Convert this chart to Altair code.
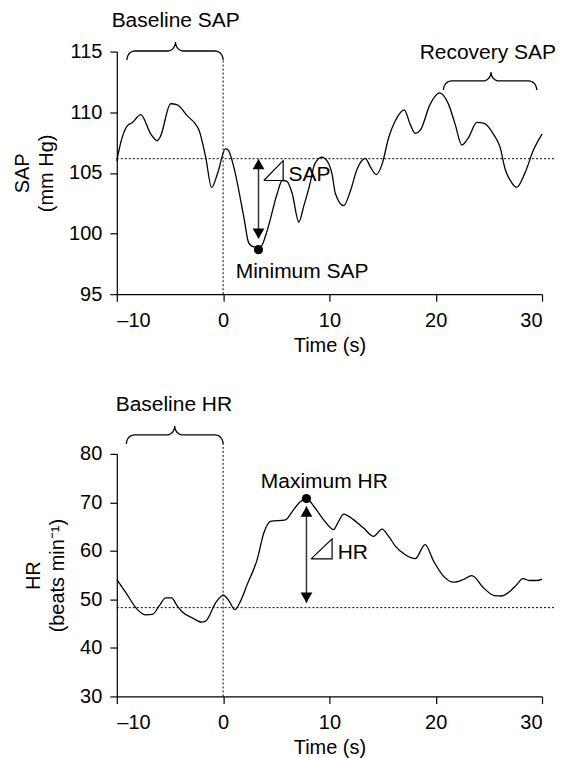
import altair as alt
import pandas as pd
import numpy as np

FONT = "Liberation Sans"

# ---------------- data ----------------
sap_time = [-10.0, -9.6, -9.0, -8.53, -7.75, -6.8, -6.2, -5.9, -4.93, -4.3, -3.36, -2.58, -2.3,
            -1.64, -1.08, -0.54, 0.23, 0.5, 1.0, 1.95, 2.42, 2.9, 3.52, 4.15, 5.09, 5.56, 6.0,
            6.5, 7.12, 7.6, 8.2, 8.6, 9.3, 9.78, 10.25, 10.56, 11.34, 11.97, 12.6, 13.38, 13.85,
            14.41, 14.95, 15.57, 16.2, 17.04, 17.6, 18.08, 18.54, 19.48, 20.36, 21.2, 21.83,
            22.46, 23.08, 23.87, 24.49, 25.43, 26.06, 26.53, 27.0, 27.6, 28.4, 29.2, 30.0]
sap_value = [106.0, 107.6, 108.9, 109.15, 109.8, 108.2, 107.65, 108.0, 110.7, 110.6, 109.7, 109.0, 108.6,
             106.3, 103.8, 104.9, 107.0, 106.85, 105.5, 101.35, 99.2, 98.9, 98.9, 100.26, 103.3, 104.37, 104.3,
             103.3, 100.95, 102.3, 104.2, 105.7, 106.3, 106.0, 104.9, 103.3, 102.3, 103.5, 105.3, 106.2, 105.5,
             104.86, 105.7, 107.9, 109.3, 110.2, 109.0, 108.25, 108.5, 110.67, 111.6, 110.67, 109.0,
             107.3, 107.9, 109.16, 109.1, 108.2, 107.1, 105.3, 104.4, 103.8, 105.0, 106.9, 108.2]

hr_time = [-10.0, -9.15, -8.06, -7.28, -6.65, -6.03, -5.4, -4.86, -4.3, -3.83, -2.9, -2.0, -1.6,
           -0.7, 0.02, 0.55, 1.11, 1.64, 2.27, 3.2, 3.83, 4.46, 5.87, 6.5, 7.28, 7.84, 8.53, 9.46,
           10.4, 10.78, 11.34, 12.28, 13.22, 14.16, 14.95, 15.57, 16.2, 17.14, 18.08, 19.0, 19.8,
           20.73, 21.67, 22.6, 23.4, 24.49, 25.5, 26.2, 27.0, 27.6, 28.2, 28.8, 29.5, 30.0]
hr_value = [54.1, 51.4, 47.9, 46.8, 46.9, 48.6, 50.3, 50.3, 48.6, 47.4, 46.2, 45.3, 45.6,
            49.3, 50.9, 49.7, 47.9, 49.65, 53.1, 58.2, 63.7, 66.1, 66.4, 68.1, 70.2, 70.8, 69.2, 66.4,
            64.4, 65.75, 67.6, 66.4, 64.7, 63.0, 64.5, 63.0, 61.0, 59.2, 58.4, 61.3, 57.9,
            54.8, 53.55, 54.1, 54.9, 52.4, 50.8, 50.7, 51.7, 53.0, 54.3, 53.9, 53.9, 54.2]

time_ticks = [-10, 0, 10, 20, 30]
sap_ticks = [95, 100, 105, 110, 115]
hr_ticks = [30, 40, 50, 60, 70, 80]

sap_baseline = 106.17
hr_baseline = 48.3
sap_min_point = (3.33, 98.67)
hr_max_point = (7.84, 70.8)

# annotation anchors (data units)
sap_labels = ["Baseline SAP", "Recovery SAP", "Minimum SAP"]
sap_label_t = [-4.46, 24.9, 7.43]
sap_label_v = [117.5, 114.87, 96.83]
hr_labels = ["Baseline HR", "Maximum HR"]
hr_label_t = [-4.63, 9.52]
hr_label_v = [90.07, 74.3]

# braces: (start, end, tip, arm level)
sap_braces = [(-9.05, 0.0, -4.48, 115.05), (20.73, 29.5, 25.2, 112.58)]
hr_braces = [(-9.1, 0.0, -4.55, 83.9)]

# delta arrows: time, top tip, bottom tip, up head centre, down head centre
sap_arrow = (3.33, 106.1, 99.6, 105.72, 100.0)
hr_arrow = (7.84, 69.2, 49.3, 68.1, 50.39)

# delta triangle: left t, right t, base v, top v; label start t
sap_tri = (3.83, 5.65, 104.37, 106.01, 6.15)
hr_tri = (8.28, 10.25, 58.36, 62.47, 10.78)

X_END = 31.2


def brace_points(t0, t1, tm, v_arm, rt, rv, n=10):
    pts = []
    a = np.linspace(np.pi, np.pi / 2, n)
    pts += list(zip(t0 + rt + rt * np.cos(a), v_arm - rv + rv * np.sin(a)))
    a = np.linspace(-np.pi / 2, 0, n)
    pts += list(zip(tm - rt + rt * np.cos(a), v_arm + rv + rv * np.sin(a)))
    a = np.linspace(np.pi, 1.5 * np.pi, n)
    pts += list(zip(tm + rt + rt * np.cos(a), v_arm + rv + rv * np.sin(a)))
    a = np.linspace(np.pi / 2, 0, n)
    pts += list(zip(t1 - rt + rt * np.cos(a), v_arm - rv + rv * np.sin(a)))
    return pts


def brace_df(braces, rt, rv):
    rows = []
    for k, b in enumerate(braces):
        for i, (t, v) in enumerate(brace_points(*b, rt, rv)):
            rows.append({"t": t, "v": v, "id": k, "i": i})
    return pd.DataFrame(rows)


xs = alt.Scale(domain=[-10, 30], nice=False, zero=False)
x_axis = alt.Axis(values=time_ticks, title="Time (s)",
                  labelExpr="datum.value < 0 ? '\u2013' + format(-datum.value, 'd') : datum.label",
                  labelPadding=9, titlePadding=5)

ANN = 21


def panel(trace_t, trace_v, ydomain, yticks, ytitle, baseline, braces, rv,
          labels, lab_t, lab_v, point, arrow, tri, tri_label, vline_top):
    ys = alt.Scale(domain=ydomain, nice=False, zero=False)
    y_axis = alt.Axis(values=yticks, title=ytitle, labelPadding=8, titlePadding=12,
                      titleLineHeight=24)
    X = alt.X("t:Q", scale=xs, axis=x_axis)
    Y = alt.Y("v:Q", scale=ys, axis=y_axis)

    trace = alt.Chart(pd.DataFrame({"t": trace_t, "v": trace_v})).mark_line(
        color="black", strokeWidth=1.3, interpolate="monotone").encode(x=X, y=Y)

    hline = alt.Chart(pd.DataFrame({"t": [-10], "t2": [X_END], "v": [baseline]})).mark_rule(
        color="black", strokeWidth=1, strokeDash=[2, 2]).encode(x=X, x2="t2:Q", y=Y)

    vline = alt.Chart(pd.DataFrame({"t": [0], "v": [ydomain[0]], "v2": [vline_top]})).mark_rule(
        color="black", strokeWidth=1, strokeDash=[2, 2]).encode(x=X, y=Y, y2="v2:Q")

    br = alt.Chart(brace_df(braces, 0.75, rv)).mark_line(
        color="black", strokeWidth=1.3).encode(x=X, y=Y, detail="id:N", order="i:Q")

    txt = alt.Chart(pd.DataFrame({"t": lab_t, "v": lab_v, "label": labels})).mark_text(
        fontSize=ANN, font=FONT, color="black", align="center", baseline="middle").encode(
        x=X, y=Y, text="label:N")

    at, a_top, a_bot, h_up, h_dn = arrow
    arr = alt.Chart(pd.DataFrame({"t": [at], "v": [a_bot], "v2": [a_top]})).mark_rule(
        color="#333333", strokeWidth=1.5).encode(x=X, y=Y, y2="v2:Q")
    head_up = alt.Chart(pd.DataFrame({"t": [at], "v": [h_up]})).mark_point(
        shape="triangle-up", filled=True, size=140, color="black", opacity=1, strokeWidth=0).encode(x=X, y=Y)
    head_dn = alt.Chart(pd.DataFrame({"t": [at], "v": [h_dn]})).mark_point(
        shape="triangle-down", filled=True, size=140, color="black", opacity=1, strokeWidth=0).encode(x=X, y=Y)

    tl, tr, tb, tt, tx = tri
    tri_df = pd.DataFrame({"t": [tl, tr, tr, tl], "v": [tb, tb, tt, tb], "i": [0, 1, 2, 3]})
    tri_line = alt.Chart(tri_df).mark_line(color="black", strokeWidth=1.2).encode(
        x=X, y=Y, order="i:Q")
    tri_txt = alt.Chart(pd.DataFrame({"t": [tx], "v": [tb], "label": [tri_label]})).mark_text(
        fontSize=ANN, font=FONT, color="black", align="left", baseline="alphabetic").encode(
        x=X, y=Y, text="label:N")

    dot = alt.Chart(pd.DataFrame({"t": [point[0]], "v": [point[1]]})).mark_circle(
        size=85, color="black", opacity=1).encode(x=X, y=Y)

    return alt.layer(trace, hline, vline, br, txt, arr, head_up, head_dn, tri_line, tri_txt, dot).properties(
        width=426, height=243)


top = panel(sap_time, sap_value, [95, 115], sap_ticks, ["SAP", "(mm Hg)"], sap_baseline,
            sap_braces, 0.74, sap_labels, sap_label_t, sap_label_v, sap_min_point,
            sap_arrow, sap_tri, "SAP", 114.31)
bottom = panel(hr_time, hr_value, [30, 80], hr_ticks, ["HR", "(beats min\u207b\u00b9)"], hr_baseline,
               hr_braces, 1.85, hr_labels, hr_label_t, hr_label_v, hr_max_point,
               hr_arrow, hr_tri, "HR", 82.05)

chart = alt.vconcat(top, bottom, spacing=160, bounds="flush").properties(
    padding={"left": 4, "top": 1, "right": 0, "bottom": 0}
).configure_view(stroke=None).configure_axis(
    labelFont=FONT, titleFont=FONT, labelFontSize=20, titleFontSize=20,
    labelColor="black", titleColor="black", domainColor="black", tickColor="black",
    grid=False, tickSize=7, domainWidth=1.2, tickWidth=1.2, titleFontWeight="normal"
)

chart.save("out.html", embed_options={"renderer": "svg", "actions": False})
